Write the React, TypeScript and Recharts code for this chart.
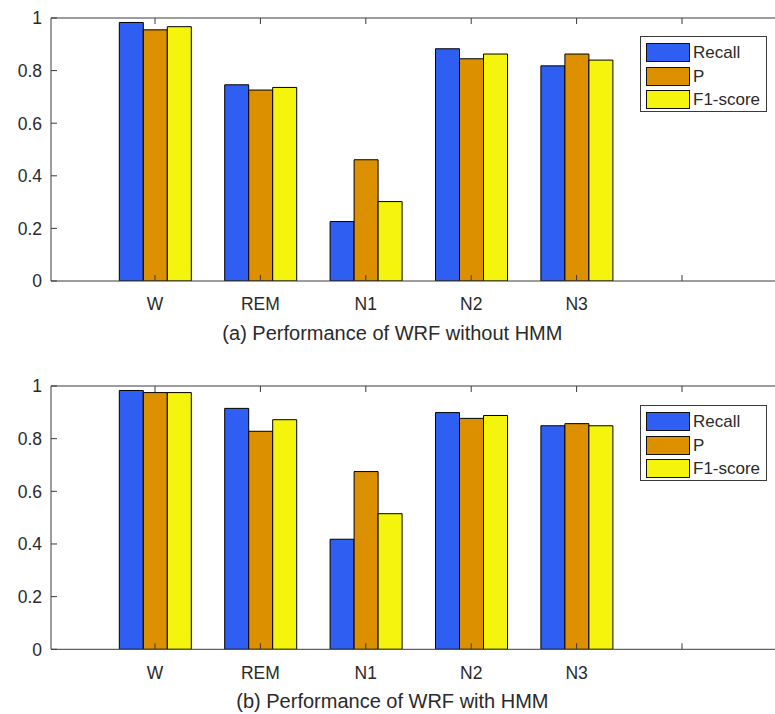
import React from 'react';
import { BarChart, Bar, XAxis, YAxis, Legend } from 'recharts';

// ---- data ----
const categories = ['W', 'REM', 'N1', 'N2', 'N3', ''];
const seriesNames = ['Recall', 'P', 'F1-score'];
const seriesColors = ['#2f5ff2', '#dc9000', '#f4f40c'];

const recallA = [0.983, 0.746, 0.226, 0.883, 0.818, 0];
const precisionA = [0.955, 0.726, 0.461, 0.845, 0.863, 0];
const f1A = [0.967, 0.736, 0.302, 0.863, 0.84, 0];

const recallB = [0.983, 0.915, 0.418, 0.899, 0.849, 0];
const precisionB = [0.975, 0.828, 0.675, 0.877, 0.857, 0];
const f1B = [0.975, 0.872, 0.515, 0.888, 0.849, 0];

const yTicks = [0, 0.2, 0.4, 0.6, 0.8, 1];
const titleA = '(a) Performance of WRF without HMM';
const titleB = '(b) Performance of WRF with HMM';

const buildRows = (r: number[], p: number[], f: number[]) =>
  categories.map((c, i) => ({ cat: c, recall: r[i], p: p[i], f1: f[i] }));

const dataA = buildRows(recallA, precisionA, f1A);
const dataB = buildRows(recallB, precisionB, f1B);
const keys = ['recall', 'p', 'f1'];

// ---- style ----
const FONT = '"Liberation Sans", Arial, Helvetica, sans-serif';
const AXIS = '#3a3a3a';
const TEXT = '#2a2a2a';
const TICK_FS = 17.5;
const TITLE_FS = 20;
const TICK_LEN = 6;
const Y_MARGIN = 9;
const X_MARGIN = 23;

const YTick = (props: any) => {
  const { x, y, payload } = props;
  return (
    <g>
      <line x1={x + Y_MARGIN} x2={x + Y_MARGIN + TICK_LEN} y1={y} y2={y} stroke={AXIS} strokeWidth={1} />
      <text x={x} y={y} dy="0.36em" textAnchor="end" fontSize={TICK_FS} fontFamily={FONT} fill={TEXT}>
        {String(payload.value)}
      </text>
    </g>
  );
};

const XTickBottom = (props: any) => {
  const { x, y, payload } = props;
  return (
    <g>
      <line x1={x} x2={x} y1={y - X_MARGIN} y2={y - X_MARGIN - TICK_LEN} stroke={AXIS} strokeWidth={1} />
      <text x={x} y={y} dy="0.36em" textAnchor="middle" fontSize={TICK_FS} fontFamily={FONT} fill={TEXT}>
        {payload.value}
      </text>
    </g>
  );
};

const XTickTop = (props: any) => {
  const { x, y } = props;
  return <line x1={x} x2={x} y1={y} y2={y + TICK_LEN} stroke={AXIS} strokeWidth={1} />;
};

const makeTitle = (offsetBelow: number) => (props: any) => {
  const { viewBox, value } = props;
  const cx = viewBox.x + viewBox.width * 0.4645;
  return (
    <text
      x={cx}
      y={viewBox.y + offsetBelow}
      dy="0.36em"
      textAnchor="middle"
      fontSize={TITLE_FS}
      fontFamily={FONT}
      fill={TEXT}
    >
      {value}
    </text>
  );
};

const LegendBox = (props: any) => {
  const payload = [...(props.payload || [])].sort(
    (a: any, b: any) => seriesNames.indexOf(a.value) - seriesNames.indexOf(b.value)
  );
  return (
    <div
      style={{
        width: 127,
        height: 76,
        boxSizing: 'border-box',
        border: '1px solid #3a3a3a',
        background: '#fff',
        padding: '4px 0 0 5px',
        fontFamily: FONT,
      }}
    >
      {payload.map((entry: any) => (
        <div key={entry.value} style={{ display: 'flex', alignItems: 'center', height: 23.5 }}>
          <div
            style={{
              width: 44,
              height: 19,
              boxSizing: 'border-box',
              border: '1.5px solid #111',
              background: entry.color,
            }}
          />
          <span style={{ marginLeft: 3, fontSize: 17, color: TEXT, lineHeight: '19px' }}>{entry.value}</span>
        </div>
      ))}
    </div>
  );
};

type PanelProps = {
  data: any[];
  title: string;
  top: number;
  topAxisH: number;
  plotH: number;
  height: number;
  legendTop: number;
  titleOffset: number;
};

const Panel = ({ data, title, top, topAxisH, plotH, height, legendTop, titleOffset }: PanelProps) => {
  const bottomAxisH = height - topAxisH - plotH;
  return (
    <div style={{ position: 'absolute', left: 0, top, width: 790, height }}>
      <BarChart
        width={790}
        height={height}
        data={data}
        margin={{ top: 0, right: 4, bottom: 0, left: 0 }}
        barCategoryGap={17}
        barGap={0}
      >
        <XAxis
          xAxisId="top"
          orientation="top"
          dataKey="cat"
          height={topAxisH}
          padding={{ left: 51.3, right: 51.3 }}
          axisLine={{ stroke: AXIS, strokeWidth: 1 }}
          tickLine={false}
          tickSize={0}
          tickMargin={0}
          tick={<XTickTop />}
          interval={0}
        />
        <XAxis
          dataKey="cat"
          height={bottomAxisH}
          padding={{ left: 51.3, right: 51.3 }}
          axisLine={{ stroke: AXIS, strokeWidth: 1 }}
          tickLine={false}
          tickSize={0}
          tickMargin={X_MARGIN}
          tick={<XTickBottom />}
          interval={0}
          label={{ value: title, content: makeTitle(titleOffset) }}
        />
        <YAxis
          width={51}
          domain={[0, 1]}
          ticks={yTicks}
          allowDataOverflow
          axisLine={{ stroke: AXIS, strokeWidth: 1 }}
          tickLine={false}
          tickSize={0}
          tickMargin={Y_MARGIN}
          tick={<YTick />}
          interval={0}
        />
        {keys.map((k, i) => (
          <Bar
            key={k}
            dataKey={k}
            name={seriesNames[i]}
            fill={seriesColors[i]}
            stroke="#000"
            strokeWidth={1}
            isAnimationActive={false}
          />
        ))}
        <Legend
          layout="vertical"
          align="center"
          verticalAlign="middle"
          content={<LegendBox />}
          wrapperStyle={{ position: 'absolute', left: 640, top: legendTop, width: 127, height: 76 }}
        />
      </BarChart>
    </div>
  );
};

export default function App() {
  return (
    <div
      style={{
        position: 'absolute',
        left: 0,
        top: 0,
        width: 775,
        height: 714,
        overflow: 'hidden',
        background: '#fff',
      }}
    >
      <Panel data={dataA} title={titleA} top={0} topAxisH={18} plotH={263} height={357} legendTop={36} titleOffset={52} />
      <Panel data={dataB} title={titleB} top={357} topAxisH={29} plotH={263.3} height={357} legendTop={48} titleOffset={51} />
    </div>
  );
}
